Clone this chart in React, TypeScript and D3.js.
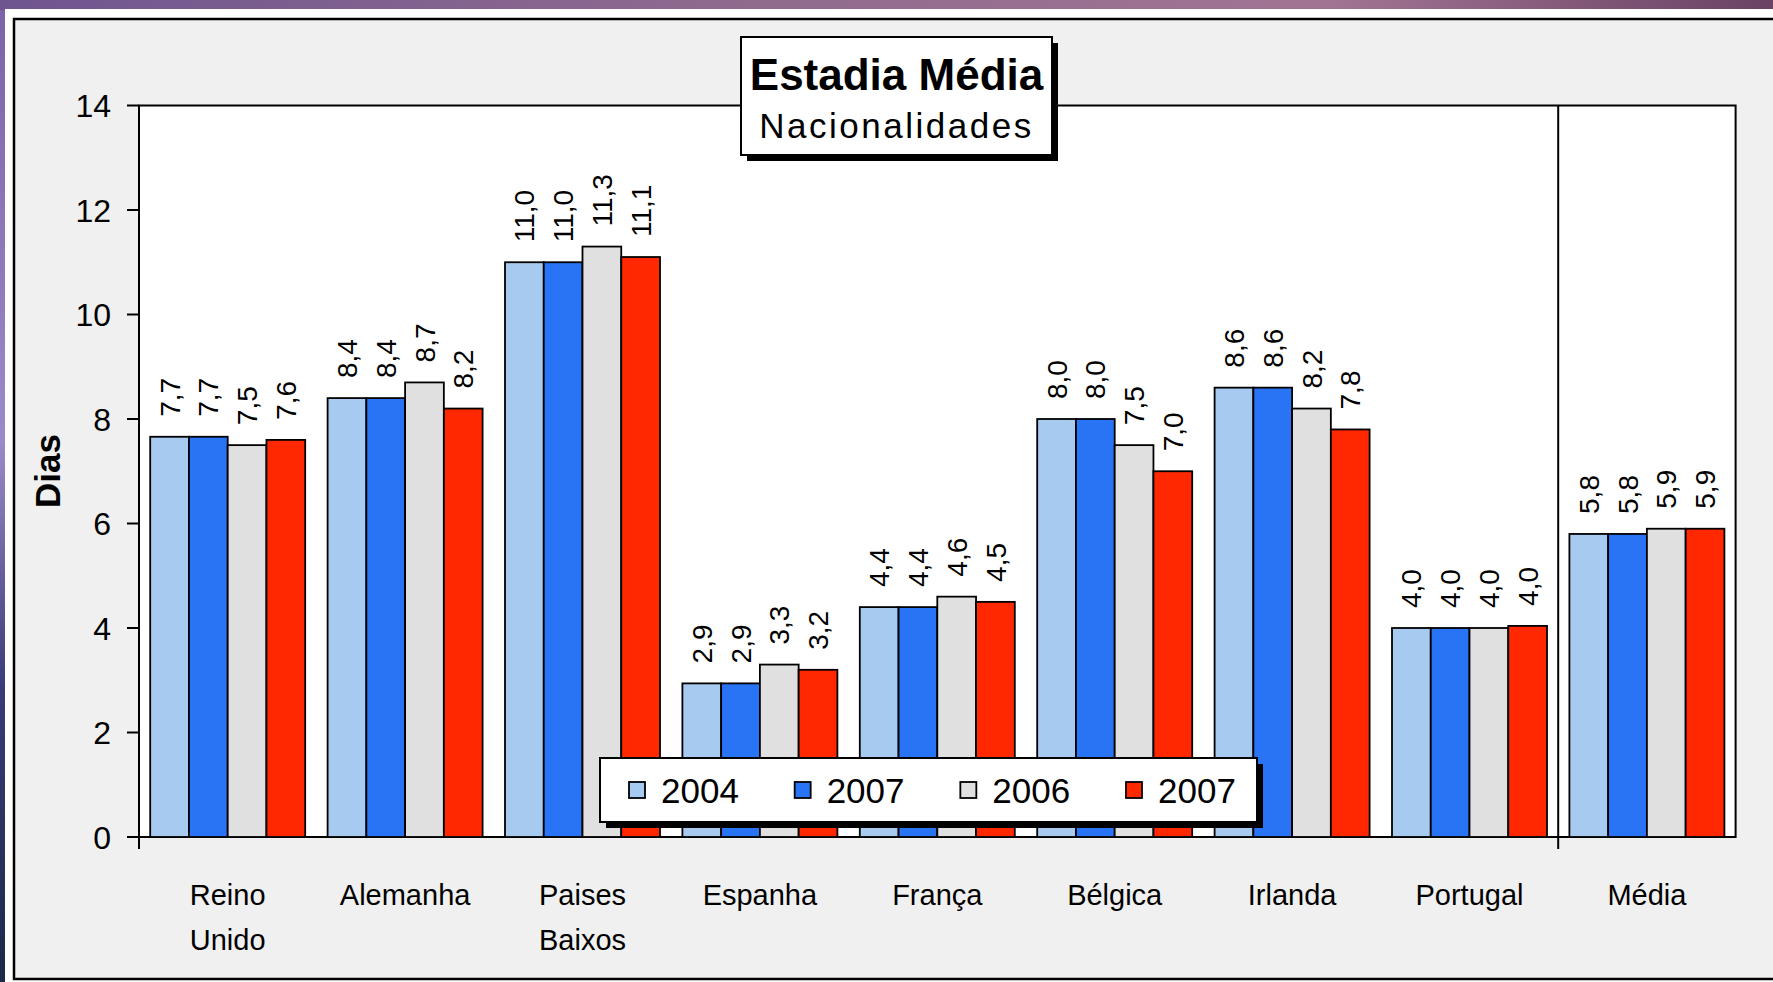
import React from "react";
import * as d3 from "d3";

const categories = ["Reino\nUnido", "Alemanha", "Paises\nBaixos", "Espanha", "França", "Bélgica", "Irlanda", "Portugal", "Média"];
const seriesNames = ["2004", "2007", "2006", "2007"];
const seriesColors = ["#a6caf0", "#2874f5", "#e0e0e0", "#ff2800"];
const values2004 = [7.66, 8.4, 11.0, 2.94, 4.4, 8.0, 8.6, 4.0, 5.8];
const values2007a = [7.66, 8.4, 11.0, 2.94, 4.4, 8.0, 8.6, 4.0, 5.8];
const values2006 = [7.5, 8.7, 11.3, 3.3, 4.6, 7.5, 8.2, 4.0, 5.9];
const values2007b = [7.6, 8.2, 11.1, 3.2, 4.5, 7.0, 7.8, 4.04, 5.9];
const yTicks = [0, 2, 4, 6, 8, 10, 12, 14];
const titleMain = "Estadia Média";
const titleSub = "Nacionalidades";
const yAxisTitle = "Dias";

const allSeries = [values2004, values2007a, values2006, values2007b];
const keys = seriesNames.map((_, i) => "s" + i);

const W = 1773, H = 982;
const PL = 139, PR = 1735.6, PT = 105.5, PB = 837;
const FONT = "'Liberation Sans', Arial, Helvetica, sans-serif";

export default function App() {
  const x = d3.scaleBand<string>().domain(categories).range([PL, PR]).paddingInner(0).paddingOuter(0);
  const xs = d3.scaleBand<string>().domain(keys).range([0, x.bandwidth()]).paddingInner(0).paddingOuter(0.289);
  const y = d3.scaleLinear().domain([0, 14]).range([PB, PT]);
  const fmt = (v: number) => d3.format(".1f")(v).replace(".", ",");
  const sep = x(categories[categories.length - 1])!;
  const legendX = d3.scalePoint<string>().domain(keys).range([629, 1126]);

  return (
    <svg width={W} height={H} style={{ position: "absolute", left: 0, top: 0, display: "block" }} fontFamily={FONT}>
      <defs>
        <linearGradient id="bgTop" x1="0" x2="1" y1="0" y2="0">
          <stop offset="0" stopColor="#6f5590" />
          <stop offset="0.4" stopColor="#8e6a8e" />
          <stop offset="0.75" stopColor="#a27494" />
          <stop offset="1" stopColor="#6a4264" />
        </linearGradient>
        <linearGradient id="bgLeft" x1="0" x2="0" y1="0" y2="1">
          <stop offset="0" stopColor="#7c62a8" />
          <stop offset="0.45" stopColor="#9b8ac8" />
          <stop offset="0.7" stopColor="#3a3a78" />
          <stop offset="1" stopColor="#1a2a48" />
        </linearGradient>
      </defs>
      <rect x={0} y={0} width={W} height={H} fill="url(#bgLeft)" />
      <rect x={0} y={0} width={W} height={10} fill="url(#bgTop)" />
      <rect x={5} y={9} width={W - 5} height={H - 9} fill="#ffffff" />
      <rect x={14} y={19} width={W} height={H - 22} fill="#f0f0f0" stroke="#000" strokeWidth={2.5} />

      {/* plot area */}
      <rect x={PL} y={PT} width={PR - PL} height={PB - PT} fill="#ffffff" stroke="#000" strokeWidth={2} />

      {/* y ticks and labels */}
      {yTicks.map((t) => (
        <g key={t}>
          <line x1={PL - 12} x2={PL} y1={y(t)} y2={y(t)} stroke="#000" strokeWidth={2} />
          <text x={111} y={y(t)} dy="0.36em" textAnchor="end" fontSize={32} fill="#000">{t}</text>
        </g>
      ))}
      <line x1={PL} x2={PL} y1={PT} y2={PB + 12} stroke="#000" strokeWidth={2} />
      <line x1={sep} x2={sep} y1={PT} y2={PB + 12} stroke="#000" strokeWidth={2} />

      <text transform={`translate(47,471) rotate(-90)`} textAnchor="middle" dy="0.36em" fontSize={35} fontWeight="bold" fill="#000">{yAxisTitle}</text>

      {/* bars */}
      {categories.map((c, ci) => (
        <g key={c} transform={`translate(${x(c)},0)`}>
          {allSeries.map((vals, si) => {
            const v = vals[ci];
            const bx = xs(keys[si])!;
            const bw = xs.bandwidth();
            return (
              <g key={si}>
                <rect x={bx} y={y(v)} width={bw} height={PB - y(v)} fill={seriesColors[si]} stroke="#000" strokeWidth={1.8} />
                <text transform={`translate(${bx + bw / 2},${y(v) - 20}) rotate(-90)`} dy="0.36em" textAnchor="start" fontSize={28} fill="#000">{fmt(v)}</text>
              </g>
            );
          })}
        </g>
      ))}

      {/* category labels */}
      {categories.map((c) => (
        <text key={c} x={x(c)! + x.bandwidth() / 2} y={905} textAnchor="middle" fontSize={29} fill="#000">
          {c.split("\n").map((line, i) => (
            <tspan key={i} x={x(c)! + x.bandwidth() / 2} dy={i === 0 ? 0 : 45}>{line}</tspan>
          ))}
        </text>
      ))}

      {/* title box */}
      <rect x={747} y={43} width={311} height={118} fill="#000" />
      <rect x={741} y={37} width={311} height={118} fill="#fff" stroke="#000" strokeWidth={2} />
      <text x={896.5} y={90} textAnchor="middle" fontSize={44} fontWeight="bold" fill="#000">{titleMain}</text>
      <text x={896.5} y={138} textAnchor="middle" fontSize={35} letterSpacing={2.5} fill="#000">{titleSub}</text>

      {/* legend */}
      <rect x={606} y={764} width={657} height={64} fill="#000" />
      <rect x={600} y={758} width={657} height={64} fill="#fff" stroke="#000" strokeWidth={2} />
      {keys.map((k, i) => (
        <g key={k}>
          <rect x={legendX(k)!} y={782} width={16} height={16} fill={seriesColors[i]} stroke="#000" strokeWidth={1.8} />
          <text x={legendX(k)! + 32} y={790} dy="0.36em" fontSize={35} fill="#000">{seriesNames[i]}</text>
        </g>
      ))}
    </svg>
  );
}
